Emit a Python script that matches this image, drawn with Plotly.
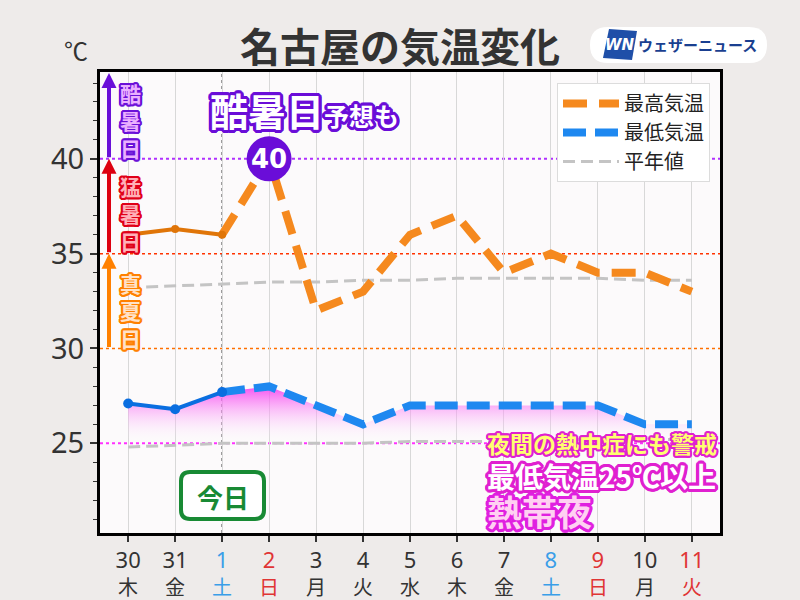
import plotly.graph_objects as go

# ---------------- data ----------------
dates = ['30', '31', '1', '2', '3', '4', '5', '6', '7', '8', '9', '10', '11']
weekdays = ['木', '金', '土', '日', '月', '火', '水', '木', '金', '土', '日', '月', '火']
day_colors = ['#333333', '#333333', '#3a9ee8', '#e03535', '#333333', '#333333', '#333333',
              '#333333', '#333333', '#3a9ee8', '#e03535', '#333333', '#e03535']
max_temp = [36.0, 36.3, 36.0, 40.0, 32.0, 33.0, 36.0, 37.0, 34.0, 35.0, 34.0, 34.0, 33.0]
min_temp = [27.1, 26.8, 27.7, 28.0, 27.0, 26.0, 27.0, 27.0, 27.0, 27.0, 27.0, 26.0, 26.0]
normal_max = [33.2, 33.3, 33.4, 33.5, 33.5, 33.6, 33.6, 33.7, 33.7, 33.7, 33.7, 33.6, 33.6]
normal_min = [24.8, 24.9, 25.0, 25.0, 25.0, 25.0, 25.1, 25.1, 25.1, 25.2, 25.2, 25.2, 25.2]
observed_count = 3          # 30, 31, 1 are observed; forecast starts at index 2
today_index = 2
peak_index = 3
threshold_tropical = 25
threshold_summer = 30
threshold_hot = 35
threshold_extreme = 40
y_ticks = [25, 30, 35, 40]

idx = list(range(len(dates)))
ticktext = [f'<span style="color:{c}">{d}</span>' for d, c in zip(dates, day_colors)]

# ---------------- geometry helpers (decorations only) ----------------
W, H = 800, 600
L, R, T, B = 100, 80, 72, 67
PW, PH = W - L - R, H - T - B
YR = [20.27, 44.58]
XR = [-0.6, 12.6]


def px_x(px):
    return (px - L) / PW


def px_y(py):
    return (H - B - py) / PH


def outline(color, w=2):
    offs = []
    for dx in range(-w, w + 1):
        for dy in range(-w, w + 1):
            if (dx or dy) and dx * dx + dy * dy <= w * w + 1:
                offs.append(f"{dx}px {dy}px 0 {color}")
    return ", ".join(offs)


def round_rect(x0, y0, x1, y1, r):
    def P(x, y):
        return f"{px_x(x):.5f},{px_y(y):.5f}"
    return (f"M {P(x0 + r, y0)} L {P(x1 - r, y0)} Q {P(x1, y0)} {P(x1, y0 + r)} "
            f"L {P(x1, y1 - r)} Q {P(x1, y1)} {P(x1 - r, y1)} L {P(x0 + r, y1)} "
            f"Q {P(x0, y1)} {P(x0, y1 - r)} L {P(x0, y0 + r)} Q {P(x0, y0)} {P(x0 + r, y0)} Z")


JP = "Noto Sans CJK JP"
fig = go.Figure()

# --- fill under min temperature (tropical night gradient) ---
fig.add_trace(go.Scatter(x=idx, y=[threshold_tropical] * len(idx), mode='lines',
                         line=dict(width=0), hoverinfo='skip', showlegend=False))
fig.add_trace(go.Scatter(x=idx, y=min_temp, mode='lines', line=dict(width=0),
                         fill='tonexty',
                         fillgradient=dict(type='vertical', start=threshold_tropical, stop=28.0,
                                           colorscale=[[0, 'rgba(255,255,255,0)'],
                                                       [1, 'rgba(245,60,240,0.9)']]),
                         hoverinfo='skip', showlegend=False))

# --- normals ---
fig.add_trace(go.Scatter(x=idx, y=normal_max, mode='lines', name='平年値',
                         line=dict(color='#c4c4c4', width=3, dash='12px,6px'),
                         legendgroup='c', legendrank=3))
fig.add_trace(go.Scatter(x=idx, y=normal_min, mode='lines', showlegend=False,
                         line=dict(color='#c4c4c4', width=3, dash='12px,6px')))

# --- min temperature ---
fig.add_trace(go.Scatter(x=idx[today_index:], y=min_temp[today_index:], mode='lines',
                         name='最低気温', legendgroup='b', legendrank=2,
                         line=dict(color='#1e88f0', width=8, dash='23px,9px')))
fig.add_trace(go.Scatter(x=idx[:observed_count], y=min_temp[:observed_count],
                         mode='lines+markers', showlegend=False,
                         line=dict(color='#0a6ee0', width=4),
                         marker=dict(color='#0a6ee0', size=10)))

# --- max temperature ---
fig.add_trace(go.Scatter(x=idx[today_index:], y=max_temp[today_index:], mode='lines',
                         name='最高気温', legendgroup='a', legendrank=1,
                         line=dict(color='#f5891e', width=8, dash='24px,12px')))
fig.add_trace(go.Scatter(x=idx[:observed_count], y=max_temp[:observed_count],
                         mode='lines+markers', showlegend=False,
                         line=dict(color='#e07508', width=4),
                         marker=dict(color='#e07508', size=8)))

# --- peak marker ---
fig.add_trace(go.Scatter(x=[idx[peak_index]], y=[max_temp[peak_index]], mode='markers',
                         marker=dict(color='#6a0dd8', size=45, line=dict(width=0)),
                         showlegend=False, hoverinfo='skip'))

shapes = []
for yv, col, wd in [(threshold_tropical, '#ff30ff', 2), (threshold_summer, '#ff7000', 1.5),
                    (threshold_hot, '#ff3300', 1.5), (threshold_extreme, '#b030ff', 2)]:
    shapes.append(dict(type='line', xref='paper', x0=0, x1=1, yref='y', y0=yv, y1=yv,
                       line=dict(color=col, width=wd, dash='dot'), layer='between'))
shapes.append(dict(type='line', xref='x', x0=today_index, x1=today_index, yref='paper', y0=0, y1=1,
                   line=dict(color='#666666', width=1.5, dash='dot'), layer='between'))
shapes.append(dict(type='path', xref='paper', yref='paper', path=round_rect(181, 472, 264, 519, 9),
                   line=dict(color='#188a34', width=4), fillcolor='#ffffff'))
shapes.append(dict(type='path', xref='paper', yref='paper', path=round_rect(590, 27, 767, 63, 18),
                   line=dict(width=0), fillcolor='#ffffff', layer='above'))
shapes.append(dict(type='path', xref='paper', yref='paper',
                   path=(f"M {px_x(609):.5f},{px_y(29):.5f} L {px_x(637):.5f},{px_y(31):.5f} "
                         f"L {px_x(632):.5f},{px_y(60):.5f} L {px_x(603):.5f},{px_y(58):.5f} Z"),
                   line=dict(width=0), fillcolor='#1f4fa8'))

ann = []


def add_text(text, x, y, font, xanchor='center', yanchor='middle', xref='paper', yref='paper'):
    ann.append(dict(text=text, x=x, y=y, xref=xref, yref=yref, xanchor=xanchor, yanchor=yanchor,
                    showarrow=False, font=font))


add_text('<b>名古屋の気温変化</b>', px_x(400), px_y(45), dict(family=JP, size=40, color='#333333'))
add_text('℃', px_x(76), px_y(50), dict(family=JP, size=24, color='#333333'))
add_text('<b><i>WN</i></b>', px_x(620), px_y(45), dict(family='DejaVu Sans', size=15, color='#ffffff'))
add_text('<b>ウェザーニュース</b>', px_x(697), px_y(45), dict(family=JP, size=15, color='#1a3f90'))

# weekday row under the date tick labels
for i, (w, c) in enumerate(zip(weekdays, day_colors)):
    add_text(w, i, px_y(586), dict(family=JP, size=20, color=c), xref='x')

ax_x = (109 - L) / PW * (XR[1] - XR[0]) + XR[0]
for y0, y1, col in [(threshold_summer, threshold_hot, '#ff8000'),
                    (threshold_hot, threshold_extreme, '#dd0010'),
                    (threshold_extreme, YR[1] - 0.05, '#6a10d8')]:
    ann.append(dict(text='', x=ax_x, y=y1, ax=ax_x, ay=y0, xref='x', yref='y', axref='x', ayref='y',
                    showarrow=True, arrowhead=2, arrowsize=0.75, arrowwidth=4, arrowcolor=col,
                    standoff=0, startstandoff=0))
for txt, yc, fill, edge in [('真<br>夏<br>日', 310, '#ffe2c8', '#ff8000'),
                            ('猛<br>暑<br>日', 213, '#ffb0b8', '#e00018'),
                            ('酷<br>暑<br>日', 120, '#eab0ff', '#6a10d8')]:
    add_text(f'<b>{txt}</b>', px_x(130), px_y(yc),
             dict(family=JP, size=21, color=fill, shadow=outline(edge, 2)))

add_text('<b>酷暑日<span style="font-size:25px">予想も</span></b>', px_x(208), px_y(109),
         dict(family=JP, size=38, color='#ffffff', shadow=outline('#6a0dd8', 3)), xanchor='left')
add_text(f'<b>{max_temp[peak_index]:.0f}</b>', idx[peak_index], max_temp[peak_index],
         dict(family='DejaVu Sans', size=26, color='#ffffff', shadow=outline('#6a0dd8', 1)),
         xref='x', yref='y')
add_text('<b>今日</b>', px_x(222.5), px_y(496), dict(family=JP, size=26, color='#188a34'))
add_text('<b>夜間の熱中症にも警戒</b>', px_x(485), px_y(443),
         dict(family=JP, size=23, color='#ffff70', shadow=outline('#e020d0', 2)), xanchor='left')
add_text('<b>最低気温25℃以上</b>', px_x(485), px_y(476),
         dict(family=JP, size=28, color='#ffffff', shadow=outline('#e020d0', 3)), xanchor='left')
add_text('<b>熱帯夜</b>', px_x(485), px_y(510),
         dict(family=JP, size=35, color='#ffd0f2', shadow=outline('#e020e0', 3)), xanchor='left')

fig.update_layout(
    template='none',
    width=W, height=H, autosize=False,
    margin=dict(l=L, r=R, t=T, b=B, autoexpand=False),
    paper_bgcolor='#eeebea', plot_bgcolor='#fcfafb',
    font=dict(family=JP, color='#333333'),
    shapes=shapes, annotations=ann,
    showlegend=True, hovermode=False,
    legend=dict(x=px_x(557), y=px_y(83), xanchor='left', yanchor='top',
                bgcolor='#ffffff', bordercolor='#dcdcdc', borderwidth=1,
                font=dict(family=JP, size=20, color='#222222'),
                traceorder='grouped', tracegroupgap=0, itemwidth=56, entrywidth=140),
    xaxis=dict(range=XR, tickmode='array', tickvals=idx, ticktext=ticktext, automargin=False,
               showgrid=True, gridcolor='#d8d8d8', gridwidth=1, zeroline=False,
               showline=True, mirror=True, linecolor='#000000', linewidth=3,
               ticks='outside', ticklen=6, tickwidth=2, tickcolor='#333333',
               tickfont=dict(family='Noto Sans', size=22, color='#333333'), fixedrange=True),
    yaxis=dict(range=YR, tickmode='array', tickvals=y_ticks, automargin=False,
               showgrid=False, zeroline=False,
               showline=True, mirror=True, linecolor='#000000', linewidth=3,
               ticks='outside', ticklen=7, tickwidth=2, tickcolor='#333333',
               tickfont=dict(family='Noto Sans', size=29, color='#333333'),
               minor=dict(dtick=1, tick0=0, ticks='outside', ticklen=4, tickwidth=1, tickcolor='#333333'),
               fixedrange=True),
)

fig.write_html("out.html", config={'displayModeBar': False},
               post_script="document.body.style.margin='0';document.body.style.background='#eeebea';")
